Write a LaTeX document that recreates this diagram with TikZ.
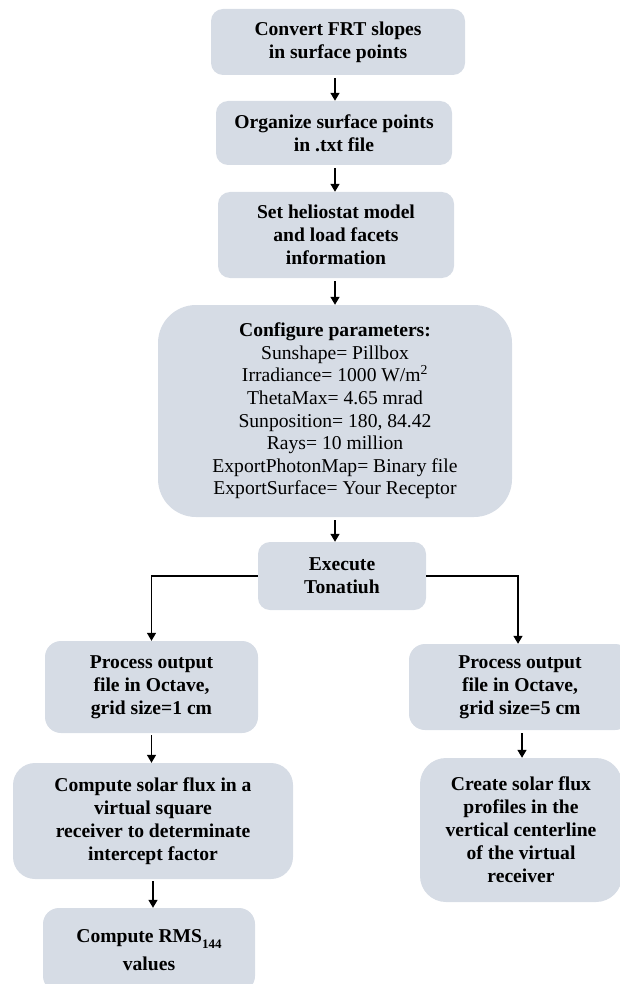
\documentclass[tikz,border=0pt]{standalone}
\usepackage{fontspec}
\setmainfont{Liberation Serif}
\usetikzlibrary{arrows.meta,calc}
\definecolor{boxfill}{HTML}{D6DCE5}
\begin{document}
\begin{tikzpicture}[x=1pt,y=-1pt,
  box/.style={rectangle, fill=boxfill, draw=none, rounded corners=#1, align=center,
    font=\bfseries\fontsize{19.6}{23}\selectfont, inner sep=0pt},
  box/.default=12pt,
  arr/.style={-{Triangle[length=8pt,width=9pt]}, line width=1.4pt, black}]
\clip (0,0) rectangle (620,984);
\coordinate (ax) at (335,0);
\node[box, minimum width=254pt, minimum height=66pt] (b1) at (338,42) {Convert FRT slopes\\in surface points};
\node[box, minimum width=236pt, minimum height=64pt] (b2) at (334,133) {Organize surface points\\in .txt file};
\node[box, minimum width=236pt, minimum height=86pt] (b3) at (336,235) {Set heliostat model\\and load facets\\information};
\node[box=38pt, minimum width=354pt, minimum height=212pt, font=\fontsize{19.6}{22.6}\selectfont] (b4) at (335,411)
  {\textbf{Configure parameters:}\\Sunshape= Pillbox\\Irradiance= 1000 W/m\textsuperscript{2}\\ThetaMax= 4.65 mrad\\Sunposition= 180, 84.42\\Rays= 10 million\\ExportPhotonMap= Binary file\\ExportSurface= Your Receptor};
\node[box, minimum width=168pt, minimum height=68pt] (ex) at (342,576) {Execute\\Tonatiuh};
\node[box=16pt, minimum width=213pt, minimum height=92pt] (p1) at (151.5,687) {Process output\\file in Octave,\\grid size=1 cm};
\node[box=16pt, minimum width=222pt, minimum height=86pt] (p2) at (520,687) {Process output\\file in Octave,\\grid size=5 cm};
\node[box=22pt, minimum width=280pt, minimum height=116pt] (cs) at (153,821) {Compute solar flux in a\\virtual square\\receiver to determinate\\intercept factor};
\node[box=26pt, minimum width=202pt, minimum height=144pt] (cr) at (521,830) {Create solar flux\\profiles in the\\vertical centerline\\of the virtual\\receiver};
\node[box=16pt, minimum width=212pt, minimum height=84pt] (rms) at (149,950) {Compute RMS\raisebox{-6pt}{\fontsize{13}{13}\selectfont 144}\\[5pt]values};
\draw[arr] ([yshift=-3pt]b1.south -| ax) -- (b2.north -| ax);
\draw[arr] ([yshift=-3pt]b2.south -| ax) -- (b3.north -| ax);
\draw[arr] ([yshift=-3pt]b3.south -| ax) -- (b4.north -| ax);
\draw[arr] ([yshift=-3pt]b4.south -| ax) -- (ex.north -| ax);
\draw[arr] (ex.west) -| (p1.north);
\draw[arr] (ex.east) -| ([xshift=-2pt]p2.north);
\draw[arr] ([yshift=-2pt]p1.south) -- (p1.south |- cs.north);
\draw[arr] ([yshift=-3pt,xshift=2pt]p2.south) -- ([xshift=2pt]p2.south |- cr.north);
\draw[arr] ([yshift=-2pt]cs.south) -- (cs.south |- rms.north);
\end{tikzpicture}
\end{document}
